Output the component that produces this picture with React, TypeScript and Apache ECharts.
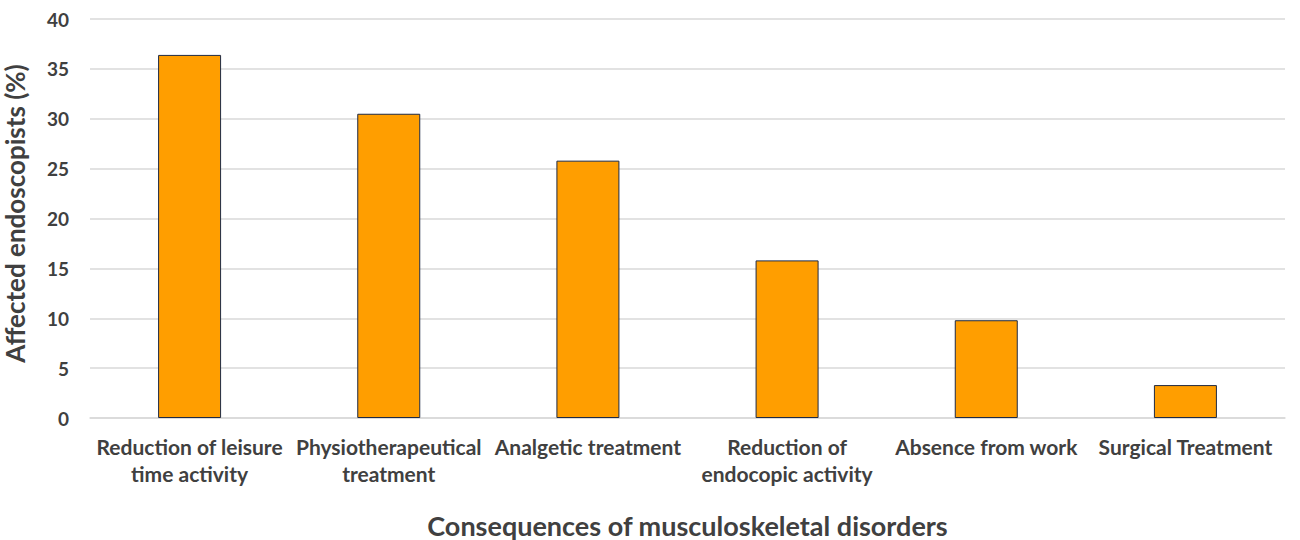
import React, { useEffect, useRef } from "react";
import * as echarts from "echarts";

const categories = [
  "Reduction of leisure\ntime activity",
  "Physiotherapeutical\ntreatment",
  "Analgetic treatment",
  "Reduction of\nendocopic activity",
  "Absence from work",
  "Surgical Treatment",
];
const values = [36.4, 30.5, 25.8, 15.8, 9.8, 3.3];
const yTicks = { min: 0, max: 40, interval: 5 };

const FONT = "Lato, 'Open Sans', sans-serif";
const TEXT = "#404040";

export default function App() {
  const ref = useRef<HTMLDivElement>(null);
  useEffect(() => {
    document.body.style.margin = "0";
    const chart = echarts.init(ref.current!, null, { renderer: "svg" });
    chart.setOption({
      animation: false,
      backgroundColor: "#ffffff",
      grid: { left: 90, right: 15, top: 19, bottom: 122, containLabel: false, outerBoundsMode: "none" },
      xAxis: {
        type: "category",
        data: categories,
        name: "Consequences of musculoskeletal disorders",
        nameLocation: "middle",
        nameGap: 92,
        nameTextStyle: { fontFamily: FONT, fontWeight: "bold", fontSize: 27, lineHeight: 30, color: TEXT },
        axisLine: { show: true, lineStyle: { color: "#d9d9d9", width: 1.5 } },
        axisTick: { show: false },
        axisLabel: {
          fontFamily: FONT,
          fontWeight: "bold",
          fontSize: 21,
          color: TEXT,
          margin: 15,
          lineHeight: 27,
          interval: 0,
        },
      },
      yAxis: {
        type: "value",
        min: yTicks.min,
        max: yTicks.max,
        interval: yTicks.interval,
        name: "Affected endoscopists (%)",
        nameLocation: "middle",
        nameGap: 62,
        nameTextStyle: {
          fontFamily: FONT,
          fontWeight: "bold",
          fontSize: 26,
          color: TEXT,
          padding: [0, 0, 0, 10],
        },
        axisLine: { show: false },
        axisTick: { show: false },
        axisLabel: { fontFamily: FONT, fontWeight: "bold", fontSize: 19, color: TEXT, margin: 21 },
        splitLine: { lineStyle: { color: "#d9d9d9", width: 1.5 } },
      },
      series: [
        {
          type: "bar",
          data: values,
          barWidth: 63,
          itemStyle: { color: "#FF9E00", borderColor: "#1f2a44", borderWidth: 1 },
        },
      ],
    });
    return () => chart.dispose();
  }, []);
  return <div ref={ref} style={{ width: 1300, height: 540 }} />;
}
